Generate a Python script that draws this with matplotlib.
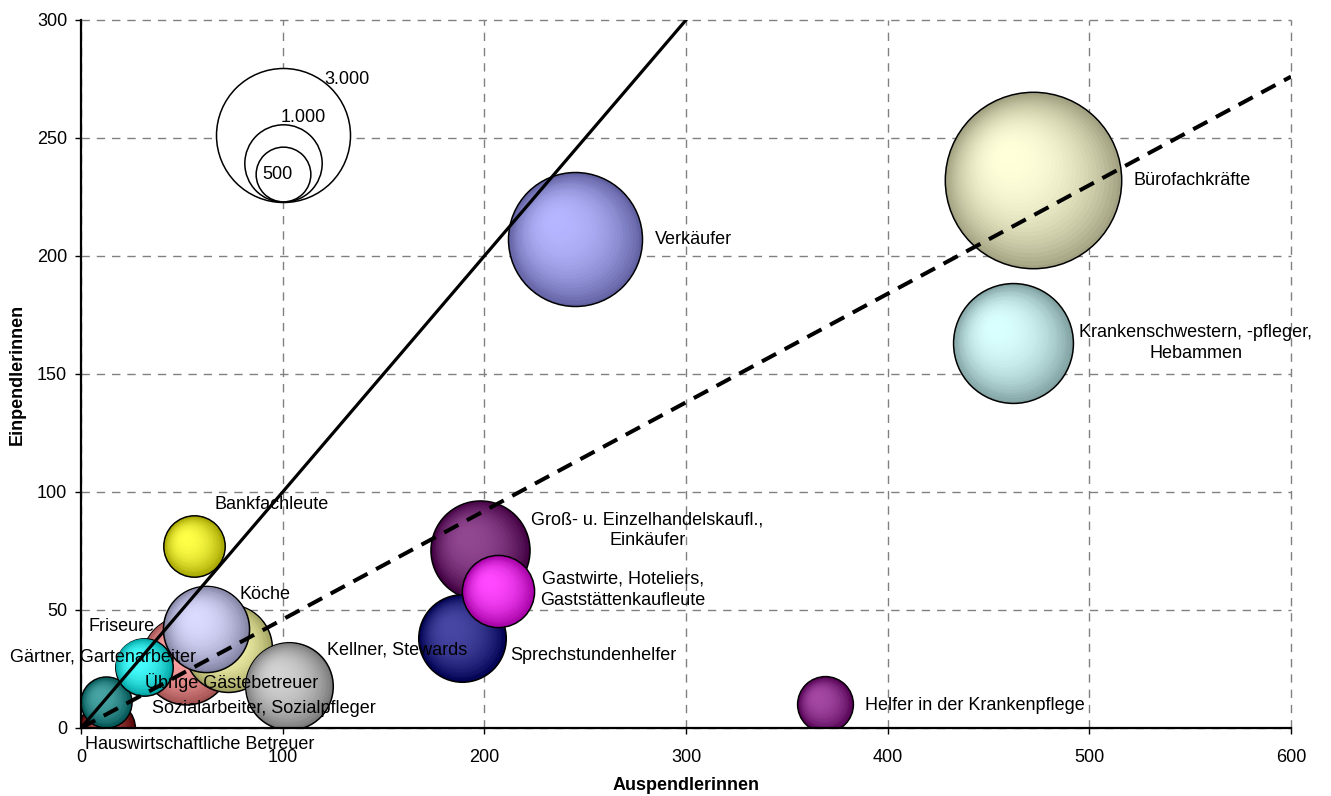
import matplotlib
matplotlib.use('Agg')
import matplotlib.pyplot as plt
from matplotlib.transforms import offset_copy
from matplotlib.colors import to_rgb
import numpy as np

plt.rcParams['font.family'] = ['Liberation Sans', 'DejaVu Sans']

# Berufe (Reihenfolge = Zeichenreihenfolge, hinten -> vorne)
berufe = [
    "Bürofachkräfte",
    "Krankenschwestern, -pfleger,\nHebammen",
    "Verkäufer",
    "Groß- u. Einzelhandelskaufl.,\nEinkäufer",
    "Sprechstundenhelfer",
    "Gastwirte, Hoteliers,\nGaststättenkaufleute",
    "Helfer in der Krankenpflege",
    "Bankfachleute",
    "Friseure",
    "Kellner, Stewards",
    "Köche",
    "Übrige Gästebetreuer",
    "Hauswirtschaftliche Betreuer",
    "Sozialarbeiter, Sozialpfleger",
    "Gärtner, Gartenarbeiter",
]
auspendler = [472, 462, 245, 198, 189, 207, 369, 56, 52, 73, 62, 103, 13, 12.5, 31]
einpendler = [232, 163, 207, 75.6, 38, 58, 10, 77, 29, 34, 42, 18, 0, 11, 26]
beschaeftigte = [5200, 2400, 3000, 1640, 1280, 870, 520, 630, 1320, 1290, 1240, 1280, 520, 435, 550]
farben = ['#FFFFCC', '#CCFFFF', '#9999FF', '#660066', '#000080', '#FF00FF', '#800080',
          '#FFFF00', '#FF8080', '#FFFF99', '#CCCCFF', '#C0C0C0', '#800000', '#008080', '#00FFFF']

# Position der Beschriftungen (linker Rand, Mitte)
label_x = [522, 495, 284.6, 223.2, 212.7, 227.6, 388.8, 66.4, 3.5, 122, 78.8, 31.7, 2, 35.2, -35.2]
label_y = [231.8, 163.1, 206.8, 83.7, 30.9, 58.5, 9.7, 94.5, 43.2, 33.1, 56.4, 19.1, -7.2, 8.1, 30.1]

# Größenlegende
legende_werte = [3000, 1000, 500]
legende_text = ['3.000', '1.000', '500']
legende_basis = (100, 223)
legende_lx = [120.5, 99.2, 89.8]
legende_ly = [274.6, 258.5, 234.7]

# Vergleichslinien
linie_x = [0, 300]
linie_y = [0, 300]
linie2_x = [0, 600]
linie2_y = [0, 276]

R3000_PX = 67  # Radius der 3000er Blase in Pixeln
DPI = 100


def radius_pt(wert):
    return R3000_PX * np.sqrt(wert / 3000) * 72 / DPI


fig = plt.figure(figsize=(13.31, 7.96), dpi=DPI)
ax = fig.add_axes([81 / 1331, 68 / 796, 1210 / 1331, 708 / 796])
ax.set_xlim(0, 600)
ax.set_ylim(0, 300)


def kugel(x, y, wert, farbe, n=28):
    r = radius_pt(wert)
    base = np.array(to_rgb(farbe))
    rand = base * 0.64
    licht = base + (1 - base) * 0.28
    # Umriss
    ax.plot([x], [y], 'o', ms=2 * r, mfc=tuple(rand), mec='black', mew=1.1, zorder=2)
    for k in range(1, n):
        t = k / n
        rk = r * (1 - t)
        dx, dy = -0.32 * r * t, 0.31 * r * t
        c = rand + (licht - rand) * (1 - (1 - t) ** 2.4)
        tr = offset_copy(ax.transData, fig=fig, x=dx, y=dy, units='points')
        ax.plot([x], [y], 'o', ms=2 * rk, mfc=tuple(np.clip(c, 0, 1)), mec='none',
                transform=tr, zorder=2)


for i in range(len(berufe)):
    kugel(auspendler[i], einpendler[i], beschaeftigte[i], farben[i])

# Vergleichslinien
ax.plot(linie_x, linie_y, color='black', lw=2.3, zorder=3)
ax.plot(linie2_x, linie2_y, color='black', lw=2.9, ls=(0, (4, 2.4)), zorder=3)

# Größenlegende (Kreise unten bündig)
for w in legende_werte:
    r = radius_pt(w)
    tr = offset_copy(ax.transData, fig=fig, x=0, y=r, units='points')
    ax.plot([legende_basis[0]], [legende_basis[1]], 'o', ms=2 * r, mfc='white',
            mec='black', mew=1.1, transform=tr, zorder=2)
for t, lx, ly in zip(legende_text, legende_lx, legende_ly):
    ax.text(lx, ly, t, fontsize=13, ha='left', va='center', zorder=5)

# Beschriftungen
for i, name in enumerate(berufe):
    ax.text(label_x[i], label_y[i], name, fontsize=13, ha='left', va='center',
            multialignment='center', linespacing=1.3, zorder=5, clip_on=False)

# Achsen
ax.set_xticks(range(0, 601, 100))
ax.set_yticks(range(0, 301, 50))
ax.grid(True, color='#808080', ls=(0, (6, 5)), lw=1.0, zorder=0)
ax.set_axisbelow(True)
for gl in ax.get_xgridlines() + ax.get_ygridlines():
    gl.set_clip_on(False)
for s in ['top', 'right']:
    ax.spines[s].set_visible(False)
for s in ['left', 'bottom']:
    ax.spines[s].set_linewidth(1.6)
    ax.spines[s].set_zorder(4)
ax.tick_params(axis='x', direction='out', length=4, width=1, labelsize=13, pad=11)
ax.tick_params(axis='y', direction='out', length=4, width=1, labelsize=13, pad=6)
ax.set_xlabel('Auspendlerinnen', fontsize=13, fontweight='bold', labelpad=8)
ax.set_ylabel('Einpendlerinnen', fontsize=13, fontweight='bold', labelpad=8)

fig.savefig('out.png', dpi=DPI)
